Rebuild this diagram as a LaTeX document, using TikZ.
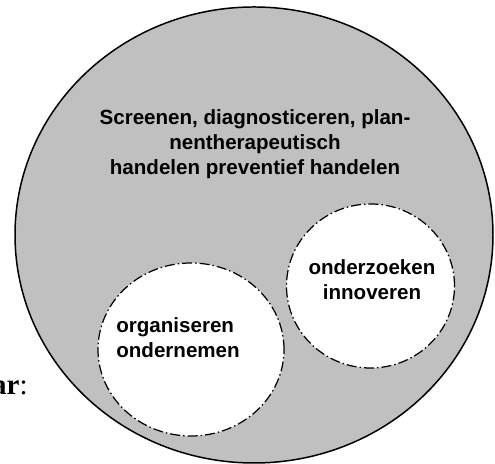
\documentclass[tikz,border=0pt]{standalone}
\usepackage{fontspec}
\setmainfont{Liberation Serif}
\setsansfont{Liberation Sans}
\usepackage{tikz}
\usetikzlibrary{positioning}
\definecolor{vakgrijs}{RGB}{192,192,192}

\begin{document}
\begin{tikzpicture}[
        domein/.style={draw=black, line width=0.85pt, fill=vakgrijs},
        deeldomein/.style={draw=black, line width=0.7pt, fill=white,
            dash pattern=on 5.7pt off 1.7pt on 0.85pt off 1.7pt},
        tekst/.style={font=\sffamily\bfseries\fontsize{11.7}{14.2}\selectfont, inner sep=0pt}
    ]
        \useasboundingbox (0,0) rectangle (9.9,9.28);

        % grote cirkel en de twee deelgebieden
        \draw[domein] (5.08,4.58) ellipse (4.78 and 4.56);
        \draw[deeldomein] (3.82,2.29) ellipse (1.86 and 1.73);
        \draw[deeldomein] (7.41,3.56) ellipse (1.68 and 1.64);

        \node[tekst, align=center] (hoofd) at (5.10,6.39)
            {Screenen, diagnosticeren, plan-\\nentherapeutisch\\handelen preventief handelen};
        \node[tekst, align=center] (onderzoek) at (7.44,3.68) {onderzoeken\\innoveren};
        \node[tekst, align=left, anchor=west] (organisatie) at (2.32,2.52) {organiseren\\ondernemen};

        \node[anchor=base east, inner sep=0pt, font=\fontsize{16.5}{18}\selectfont] (jaar) at (0.56,1.38)
            {\textbf{ar}:};
    \end{tikzpicture}
\end{document}
